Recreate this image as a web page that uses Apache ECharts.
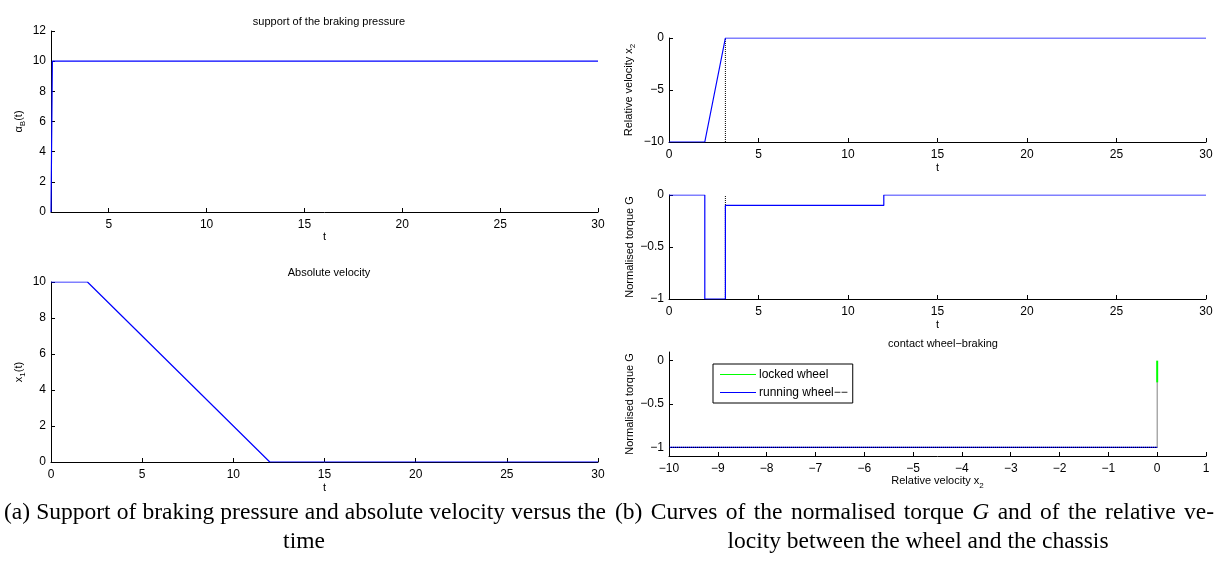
<!DOCTYPE html>
<html>
<head>
<meta charset="utf-8">
<script src="https://cdn.jsdelivr.net/npm/echarts@6/dist/echarts.min.js"></script>
<style>
html,body{margin:0;padding:0;background:#fff;}
#chart{width:1221px;height:563px;}
</style>
</head>
<body>
<div id="chart"></div>
<script>
// ---- data ----
const tPressure = [2.05, 2.12, 30];
const alphaB = [0, 10, 10];
const tAbs = [0, 2, 12, 30];
const x1Abs = [10, 10, 0, 0];
const tRel = [0, 2, 3.15, 30];
const x2Rel = [-10, -10, 0, 0];
const tRelDot = [3.15, 3.15];
const x2RelDot = [-10, 0];
const tTorque = [0, 2, 2, 3.15, 3.15, 12, 12, 30];
const gTorque = [0, 0, -1, -1, -0.1, -0.1, 0, 0];
const tTorqueDot = [3.15, 3.15];
const gTorqueDot = [-1, 0];
const runX2 = [-10, 0];
const runG = [-1, -1];
const lockX2 = [0, 0];
const lockG = [0, -0.25];
const dotX2 = [-10, 0, 0];
const dotG = [-1, -1, -0.25];
const tTicksTop = [5, 10, 15, 20, 25, 30];
const gTicksContact = [-1, -0.5, 0];
const captionA1 = '(a) Support of braking pressure and absolute velocity versus the';
const captionA2 = 'time';
const captionB1 = '(b) Curves of the normalised torque *G and of the relative ve-';
const captionB2 = 'locity between the wheel and the chassis';

const zip = (a, b) => a.map((v, i) => [v, b[i]]);
const fmt = v => String(v).replace('-', '\u2212');
const FONT = 'Liberation Sans';
const CAPF = '23.5px "Liberation Serif"';
const CAPFI = 'italic 23.5px "Liberation Serif"';
const richSub = {s: {fontSize: 8, fontFamily: FONT, color: '#000', padding: [8, 0, 0, 0]}};

// justified caption line: words spread between x0 and x1
const mctx = document.createElement('canvas').getContext('2d');
function justify(line, x0, x1, y) {
  const words = line.split(' ').map(w => {
    const it = w.startsWith('*');
    const t = it ? w.slice(1) : w;
    mctx.font = it ? CAPFI : CAPF;
    return {t: t, it: it, w: mctx.measureText(t).width};
  });
  const total = words.reduce((s, o) => s + o.w, 0);
  const gap = (x1 - x0 - total) / (words.length - 1);
  let x = x0;
  return words.map(o => {
    const el = {type: 'text', x: x, y: y, style: {text: o.t, font: o.it ? CAPFI : CAPF, fill: '#000'}};
    x += o.w + gap;
    return el;
  });
}

function xAx(gi, o) {
  return Object.assign({
    gridIndex: gi, type: 'value',
    nameLocation: 'middle', nameGap: 18,
    nameTextStyle: {color: '#000', fontSize: 11, fontFamily: FONT, rich: richSub},
    axisLine: {onZero: false, lineStyle: {color: '#000', width: 1}},
    axisTick: {inside: true, length: 4, lineStyle: {color: '#000'}},
    axisLabel: {color: '#000', fontSize: 12, fontFamily: FONT, margin: 7, formatter: fmt},
    splitLine: {show: false}
  }, o);
}
function yAx(gi, o) {
  return Object.assign({
    gridIndex: gi, type: 'value',
    nameLocation: 'middle', nameGap: 27,
    nameTextStyle: {color: '#000', fontSize: 11, fontFamily: FONT, rich: richSub},
    axisLine: {onZero: false, lineStyle: {color: '#000', width: 1}},
    axisTick: {inside: true, length: 4, lineStyle: {color: '#000'}},
    axisLabel: {color: '#000', fontSize: 12, fontFamily: FONT, margin: 5, formatter: fmt},
    splitLine: {show: false}
  }, o);
}
const blue = '#0000ff';
function ln(name, xi, data, color, type, z, w) {
  return {name: name, type: 'line', xAxisIndex: xi, yAxisIndex: xi, data: data,
    showSymbol: false, symbol: 'none', animation: false,
    lineStyle: {color: color, width: w || 1.2, type: type || 'solid'}, itemStyle: {color: color}, z: z || 2};
}

const graphics = []
  .concat(justify(captionA1, 4, 606, 501))
  .concat([{type: 'text', x: 304, y: 530, style: {text: captionA2, font: CAPF, fill: '#000', textAlign: 'center'}}])
  .concat(justify(captionB1, 615, 1214, 501))
  .concat([{type: 'text', x: 918, y: 530, style: {text: captionB2, font: CAPF, fill: '#000', textAlign: 'center'}}]);

const chart = echarts.init(document.getElementById('chart'), null, {renderer: 'canvas'});
chart.setOption({
  animation: false,
  backgroundColor: '#fff',
  title: [
    {text: 'support of the braking pressure', left: 324, top: 11, textAlign: 'center',
      textStyle: {fontSize: 11, fontWeight: 'normal', color: '#000', fontFamily: FONT}},
    {text: 'Absolute velocity', left: 324, top: 262, textAlign: 'center',
      textStyle: {fontSize: 11, fontWeight: 'normal', color: '#000', fontFamily: FONT}},
    {text: 'contact wheel\u2212braking', left: 938, top: 333, textAlign: 'center',
      textStyle: {fontSize: 11, fontWeight: 'normal', color: '#000', fontFamily: FONT}}
  ],
  grid: [
    {left: 51, top: 31, width: 547, height: 181},
    {left: 51, top: 282, width: 547, height: 180},
    {left: 669, top: 38, width: 537, height: 104},
    {left: 669, top: 195, width: 537, height: 104},
    {left: 669, top: 352, width: 537, height: 104}
  ],
  xAxis: [
    xAx(0, {min: 2.05, max: 30, name: 't', nameGap: 19,
      axisTick: {inside: true, length: 4, lineStyle: {color: '#000'}, customValues: tTicksTop},
      axisLabel: {color: '#000', fontSize: 12, fontFamily: FONT, margin: 7, customValues: tTicksTop}}),
    xAx(1, {min: 0, max: 30, interval: 5, name: 't', nameGap: 20}),
    xAx(2, {min: 0, max: 30, interval: 5, name: 't', nameGap: 20}),
    xAx(3, {min: 0, max: 30, interval: 5, name: 't', nameGap: 20}),
    xAx(4, {min: -10, max: 1, interval: 1, name: 'Relative velocity x{s|2}', nameGap: 17})
  ],
  yAxis: [
    yAx(0, {min: 0, max: 12, interval: 2, name: '\u03b1{s|B}(t)', nameGap: 24}),
    yAx(1, {min: 0, max: 10, interval: 2, name: 'x{s|1}(t)', nameGap: 24}),
    yAx(2, {min: -10, max: 0, interval: 5, name: 'Relative velocity x{s|2}', nameGap: 32}),
    yAx(3, {min: -1, max: 0, interval: 0.5, name: 'Normalised torque G', nameGap: 34}),
    yAx(4, {min: -1.1, max: 0.1, name: 'Normalised torque G', nameGap: 34,
      axisTick: {inside: true, length: 4, lineStyle: {color: '#000'}, customValues: gTicksContact},
      axisLabel: {color: '#000', fontSize: 12, fontFamily: FONT, margin: 5, formatter: fmt, customValues: gTicksContact}})
  ],
  legend: {
    data: [{name: 'locked wheel', icon: 'rect'}, {name: 'running wheel\u2212\u2212', icon: 'rect'}],
    orient: 'vertical', left: 713, top: 364,
    itemWidth: 36, itemHeight: 1.2, itemGap: 5,
    padding: [4, 5, 4, 7],
    borderColor: '#000', borderWidth: 1, borderRadius: 0,
    backgroundColor: '#fff',
    textStyle: {fontSize: 12, color: '#000', fontFamily: FONT, padding: [0, 0, 0, -2], lineHeight: 13},
    selectedMode: false
  },
  series: [
    ln('alpha', 0, zip(tPressure, alphaB), blue),
    ln('x1', 1, zip(tAbs, x1Abs), blue),
    ln('x2dot', 2, zip(tRelDot, x2RelDot), '#000', 'dotted', 1, 1),
    ln('x2', 2, zip(tRel, x2Rel), blue),
    ln('Gdot', 3, zip(tTorqueDot, gTorqueDot), '#000', 'dotted', 1, 1),
    ln('G', 3, zip(tTorque, gTorque), blue),
    ln('running wheel\u2212\u2212', 4, zip(runX2, runG), blue),
    ln('locked wheel', 4, zip(lockX2, lockG), '#00ff00', 'solid', 4, 2),
    ln('cdot', 4, zip(dotX2, dotG), '#000', 'dotted', 3, 1)
  ],
  graphic: graphics
});
</script>
</body>
</html>
